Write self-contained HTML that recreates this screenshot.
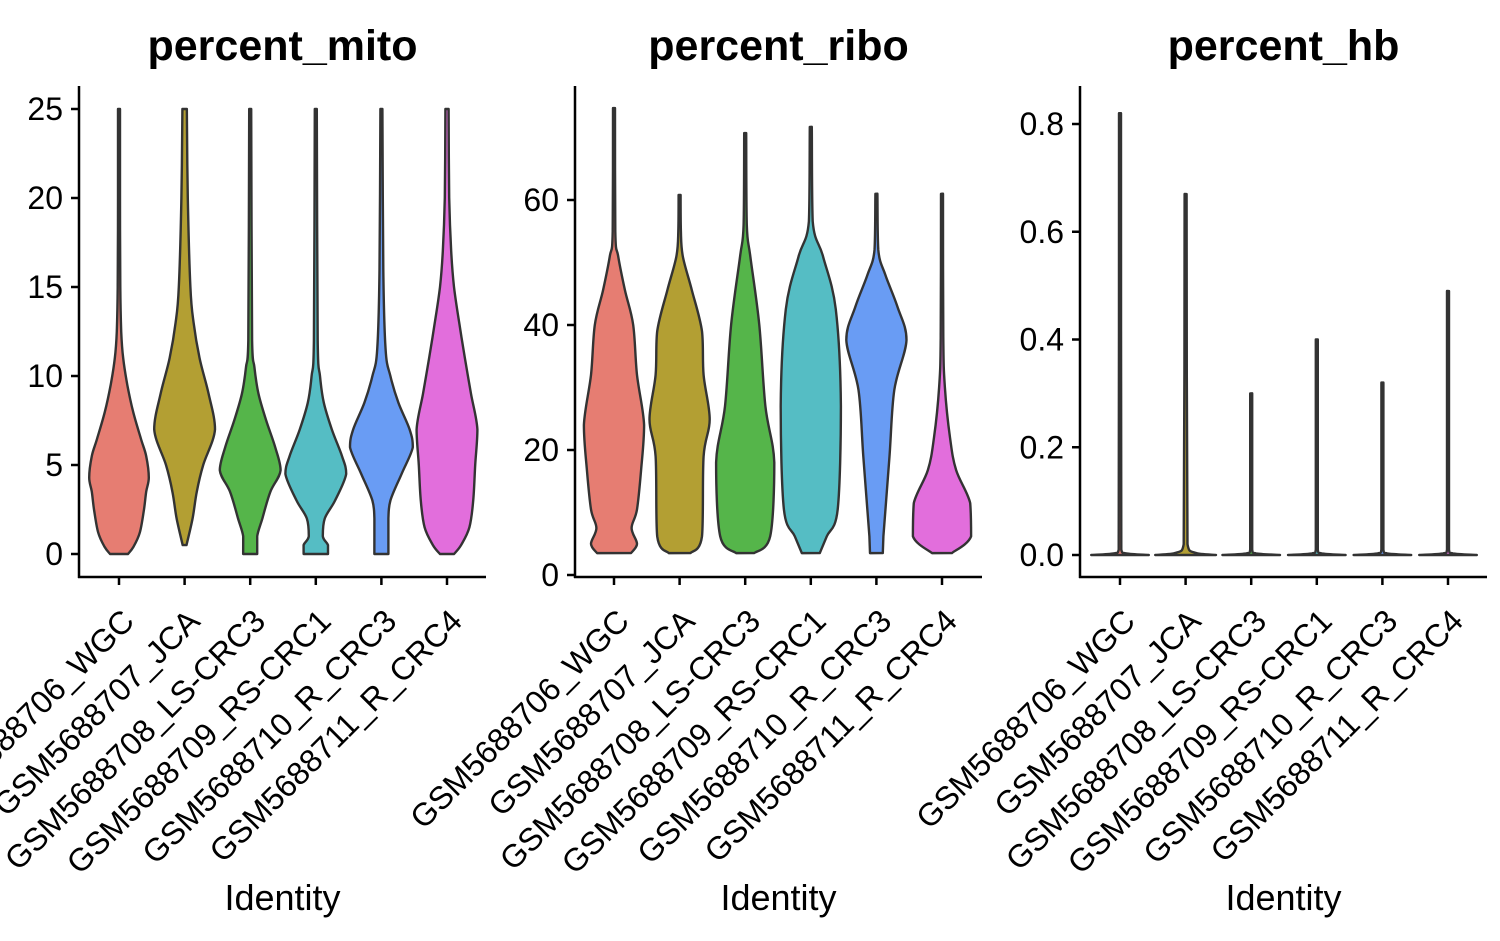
<!DOCTYPE html>
<html><head><meta charset="utf-8"><style>
body{margin:0;background:#fff;}
svg{display:block;font-family:"Liberation Sans",Arial,sans-serif;}
</style></head><body>
<svg id="chart" width="1500" height="941" viewBox="0 0 1500 941"></svg>
<script>
const categories=["GSM5688706_WGC","GSM5688707_JCA","GSM5688708_LS-CRC3","GSM5688709_RS-CRC1","GSM5688710_R_CRC3","GSM5688711_R_CRC4"];
const colors=["#E67D72","#B39F33","#55B54A","#55BDC4","#699CF4","#E26EDC"];
const panelTitles=["percent_mito","percent_ribo","percent_hb"];
const mitoTicks=[0,5,10,15,20,25];
const riboTicks=[0,20,40,60];
const hbTicks=[0.0,0.2,0.4,0.6,0.8];
// violin profiles: [value, half-width density (0..1)]
const mitoA=[[0,0.28],[0.4,0.45],[1.2,0.65],[2.5,0.78],[3.5,0.85],[4.3,0.93],[5.5,0.85],[6.5,0.68],[8,0.44],[9.5,0.26],[11,0.13],[12.5,0.07],[15,0.04],[20,0.03],[25,0.02]];
const mitoB=[[0.5,0.06],[2,0.25],[3.5,0.38],[5,0.58],[7,0.95],[9,0.75],[11,0.47],[13,0.28],[15,0.18],[20,0.1],[25,0.07]];
const mitoC=[[0,0.22],[1,0.22],[2,0.38],[3.5,0.63],[4.7,0.95],[6,0.78],[7.5,0.5],[9,0.26],[10.5,0.13],[12,0.06],[25,0.03]];
const mitoD=[[0,0.38],[0.5,0.38],[1,0.22],[2,0.28],[3,0.6],[4.5,0.95],[5.5,0.82],[7,0.5],[8.5,0.25],[10,0.13],[12,0.06],[25,0.03]];
const mitoE=[[0,0.22],[2,0.22],[3,0.28],[4.5,0.63],[6,0.98],[7,0.88],[8.5,0.53],[10,0.28],[11.5,0.13],[16,0.06],[25,0.03]];
const mitoF=[[0,0.22],[0.5,0.44],[1.5,0.7],[3,0.82],[5,0.88],[7,0.95],[9,0.75],[11,0.56],[13,0.38],[15,0.22],[17,0.13],[20,0.07],[25,0.05]];
const riboA=[[3.5,0.53],[5,0.72],[7.5,0.55],[10.5,0.72],[17,0.85],[24,0.94],[32,0.72],[40,0.6],[45.6,0.34],[51,0.13],[55,0.04],[74.7,0.03]];
const riboB=[[3.5,0.34],[6.2,0.7],[19,0.75],[24.9,0.94],[32,0.75],[39,0.7],[45.6,0.38],[51,0.1],[55,0.04],[60.8,0.03]];
const riboC=[[3.5,0.28],[6.2,0.78],[18,0.91],[27,0.63],[40,0.44],[51,0.16],[56,0.05],[70.7,0.03]];
const riboD=[[3.5,0.28],[6.2,0.5],[10.5,0.84],[27,0.94],[42.5,0.78],[51,0.38],[56.6,0.06],[71.7,0.03]];
const riboE=[[3.5,0.2],[6.2,0.22],[19,0.41],[29.6,0.56],[37.6,0.94],[42.9,0.66],[48,0.28],[52,0.06],[61,0.03]];
const riboF=[[3.5,0.31],[6.2,0.91],[11.5,0.88],[16.8,0.44],[22,0.25],[30,0.09],[38,0.04],[61,0.03]];
const hbA=[[0,0.9],[0.003,0.2],[0.01,0.04],[0.82,0.03]];
const hbB=[[0,0.95],[0.004,0.3],[0.02,0.06],[0.67,0.03]];
const hbC=[[0,0.9],[0.003,0.15],[0.01,0.03],[0.3,0.03]];
const hbD=[[0,0.9],[0.003,0.15],[0.01,0.03],[0.4,0.03]];
const hbE=[[0,0.9],[0.003,0.15],[0.01,0.03],[0.32,0.03]];
const hbF=[[0,0.9],[0.003,0.15],[0.01,0.03],[0.49,0.03]];

const NS="http://www.w3.org/2000/svg";
const svg=document.getElementById('chart');
function mk(tag,attrs,parent){const e=document.createElementNS(NS,tag);for(const k in attrs)e.setAttribute(k,attrs[k]);(parent||svg).appendChild(e);return e;}

const panels=[
 {x0:79,x1:486,yTop:86,yBase:577,xFirst:119,step:65.6,vmin:0,vmax:25,pxMin:554,pxMax:109,ticks:mitoTicks,fmt:v=>String(v),data:[mitoA,mitoB,mitoC,mitoD,mitoE,mitoF]},
 {x0:575,x1:982,yTop:86,yBase:577,xFirst:614,step:65.6,vmin:0,vmax:60,pxMin:575,pxMax:200,ticks:riboTicks,fmt:v=>String(v),data:[riboA,riboB,riboC,riboD,riboE,riboF]},
 {x0:1080,x1:1487,yTop:86,yBase:577,xFirst:1120,step:65.6,vmin:0,vmax:0.8,pxMin:555,pxMax:124,ticks:hbTicks,fmt:v=>v.toFixed(1),data:[hbA,hbB,hbC,hbD,hbE,hbF]}
];
const maxHW=32;

function clamp(v,a,b){const lo=Math.min(a,b),hi=Math.max(a,b);return Math.max(lo,Math.min(hi,v));}
function smooth(pts){
  let d="";
  for(let i=0;i<pts.length-1;i++){
    const p0=pts[Math.max(0,i-1)],p1=pts[i],p2=pts[i+1],p3=pts[Math.min(pts.length-1,i+2)];
    const c1=[p1[0]+(p2[0]-p0[0])/6,clamp(p1[1]+(p2[1]-p0[1])/6,p1[1],p2[1])];
    const c2=[p2[0]-(p3[0]-p1[0])/6,clamp(p2[1]-(p3[1]-p1[1])/6,p1[1],p2[1])];
    c1[0]=clamp(c1[0],p1[0],p2[0]);c2[0]=clamp(c2[0],p1[0],p2[0]);
    d+=` C${c1[0].toFixed(1)},${c1[1].toFixed(1)} ${c2[0].toFixed(1)},${c2[1].toFixed(1)} ${p2[0].toFixed(1)},${p2[1].toFixed(1)}`;
  }
  return d;
}

panels.forEach((p,pi)=>{
  const g=mk('g',{});
  
  
  const yS=v=>p.pxMin+(v-p.vmin)/(p.vmax-p.vmin)*(p.pxMax-p.pxMin);
  const xS=i=>p.xFirst+i*p.step;
  const cx=(p.x0+p.x1)/2;
  const t=mk('text',{x:cx,y:60,'text-anchor':'middle','font-size':43,'font-weight':'bold',fill:'#000'},g);
  t.textContent=panelTitles[pi];
  
  
  p.data.forEach((prof,i)=>{
    const x=xS(i);
    const left=prof.map(([v,w])=>[x-Math.max(1,w*maxHW),yS(v)]);
    const right=prof.slice().reverse().map(([v,w])=>[x+Math.max(1,w*maxHW),yS(v)]);
    let d=`M${left[0][0]},${left[0][1]}`+smooth(left)+` L${right[0][0]},${right[0][1]}`+smooth(right)+' Z';
    const path=mk('path',{d:d,fill:colors[i],stroke:'#333','stroke-width':2.4,'stroke-linejoin':'round'},g);
    
    
  });
  const ya=mk('line',{x1:p.x0,y1:p.yTop,x2:p.x0,y2:p.yBase+1,stroke:'#000','stroke-width':2.5},g);
  
  
  const xa=mk('line',{x1:p.x0-1,y1:p.yBase,x2:p.x1,y2:p.yBase,stroke:'#000','stroke-width':2.5},g);
  
  
  p.ticks.forEach(v=>{
    const y=yS(v);
    mk('line',{x1:p.x0-8,y1:y,x2:p.x0,y2:y,stroke:'#000','stroke-width':2.5},g);
    const tl=mk('text',{x:p.x0-16,y:y+11,'text-anchor':'end','font-size':32,fill:'#000'},g);
    tl.textContent=p.fmt(v);
    
    
  });
  categories.forEach((c,i)=>{
    const x=xS(i);
    mk('line',{x1:x,y1:p.yBase,x2:x,y2:p.yBase+8,stroke:'#000','stroke-width':2.5},g);
    const ax=x+17, ay=623;
    const tl=mk('text',{x:ax,y:ay,'text-anchor':'end','font-size':32,fill:'#000',transform:`rotate(-45 ${ax} ${ay})`},g);
    tl.textContent=c;
    
    
  });
  const at=mk('text',{x:cx,y:910,'text-anchor':'middle','font-size':36,fill:'#000'},g);
  at.textContent='Identity';
  
  
});
</script>
</body></html>
